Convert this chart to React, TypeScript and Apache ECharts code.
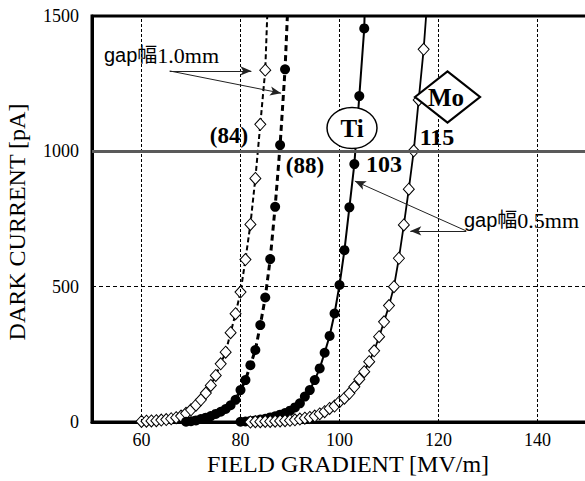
import React, { useEffect, useRef } from "react";
import * as echarts from "echarts";

// gap 1.0 mm, sample (84): open diamonds
const gap10aX = [60, 61, 62, 63, 64, 65, 66, 67, 68, 69, 70, 71, 72, 73, 74, 75, 76, 77, 78, 79, 80, 81, 82, 83, 84, 85, 85.8];
const gap10aY = [2, 3, 4, 5, 7, 9, 12, 16, 22, 32, 45, 62, 82, 107, 135, 172, 215, 258, 330, 400, 480, 600, 730, 900, 1100, 1300, 1700];
// gap 1.0 mm, sample (88): filled circles
const gap10bX = [69, 70, 71, 72, 73, 74, 75, 76, 77, 78, 79, 80, 81, 82, 83, 84, 85, 86, 87, 88, 89, 89.9];
const gap10bY = [1, 3, 6, 11, 16, 22, 30, 38, 48, 62, 82, 118, 155, 210, 266, 358, 460, 602, 795, 1023, 1303, 1680];
// gap 0.5 mm, Ti: filled circles
const tiX = [80, 81, 82, 83, 84, 85, 86, 87, 88, 89, 90, 91, 92, 93, 94, 95, 96, 97, 98, 99, 100, 101, 102, 103, 104, 105, 105.4];
const tiY = [1, 2, 4, 6, 9, 12, 17, 21, 27, 33, 42, 54, 69, 94, 118, 155, 198, 256, 318, 401, 506, 635, 793, 953, 1204, 1454, 1750];
// gap 0.5 mm, Mo: open diamonds
const moX = [82, 83, 84, 85, 86, 87, 88, 89, 90, 91, 92, 93, 94, 95, 96, 97, 98, 99, 100, 101, 102, 103, 104, 105, 106, 107, 108, 109, 110, 111, 112, 113, 114, 115, 116, 117, 117.9];
const moY = [0, 1, 1, 2, 2, 3, 4, 5, 6, 8, 11, 14, 17, 22, 30, 38, 50, 59, 75, 88, 106, 130, 158, 186, 223, 263, 315, 370, 430, 500, 605, 728, 860, 1002, 1190, 1377, 1600];

const xGridLines = [60, 80, 100, 120, 140];
const xTickLabels = [60, 80, 100, 120, 140];
const thresholdLine = 1000;

// annotation arrows in data coordinates: [startX, startY, endX, endY]
const arrows1mm = [
  [65.7, 1297, 82.2, 1297],
  [65.7, 1297, 88.2, 1215],
];
const arrows05mm = [
  [125.6, 706, 103.1, 890],
  [125.6, 706, 114.3, 706],
];

const SERIF = "'Liberation Serif', 'Times New Roman', serif";
const SANS = "'Liberation Sans', Arial, 'Noto Sans CJK JP', sans-serif";

const zip = (xs: number[], ys: number[]) => xs.map((x, i) => [x, ys[i]]);

export default function App() {
  const ref = useRef<HTMLDivElement>(null);
  useEffect(() => {
    const chart = echarts.init(ref.current!, null, { renderer: "svg" });
    const arrowData = [...arrows1mm, ...arrows05mm].map((a) => [
      { coord: [a[0], a[1]] },
      { coord: [a[2], a[3]] },
    ]);
    const boldLabel = (text: string, x: number, y: number, size: number) => ({
      type: "text",
      x,
      y,
      z: 20,
      style: { text, fontFamily: SERIF, fontWeight: "bold", fontSize: size, fill: "#000", align: "center", verticalAlign: "middle" },
    });
    const option: any = {
      animation: false,
      backgroundColor: "#fff",
      grid: {
        left: 92,
        right: 1,
        top: 16,
        bottom: 59,
        show: true,
        borderColor: "#000",
        borderWidth: 3,
        backgroundColor: "transparent",
      },
      xAxis: {
        type: "value",
        min: 50,
        max: 150,
        interval: 10,
        axisLine: { show: true, lineStyle: { color: "#000", width: 3 } },
        axisTick: { show: false },
        splitLine: { show: false },
        axisLabel: {
          color: "#000",
          fontFamily: SERIF,
          fontSize: 18,
          margin: 9,
          formatter: (v: number) => (xTickLabels.indexOf(v) >= 0 ? String(v) : ""),
        },
      },
      yAxis: {
        type: "value",
        min: 0,
        max: 1500,
        interval: 500,
        axisLine: { show: true, lineStyle: { color: "#000", width: 3 } },
        axisTick: { show: false },
        splitLine: { show: true, lineStyle: { color: "#000", width: 1, type: [4, 3] } },
        axisLabel: { color: "#000", fontFamily: SERIF, fontSize: 18, margin: 13, formatter: (v: number) => String(v) },
      },
      series: [
        {
          type: "line",
          data: [],
          z: 1,
          markLine: {
            silent: true,
            symbol: "none",
            label: { show: false },
            lineStyle: { color: "#000", width: 1, type: [3, 2] },
            data: [
              ...xGridLines.map((v) => ({ xAxis: v })),
              { yAxis: thresholdLine, lineStyle: { color: "#5a5a5a", width: 3, type: "solid" } },
            ],
          },
        },
        {
          type: "line",
          data: zip(gap10aX, gap10aY),
          z: 3,
          symbol: "diamond",
          symbolSize: [11, 12],
          showAllSymbol: true,
          lineStyle: { color: "#000", width: 2, type: [5, 3] },
          itemStyle: { color: "#fff", borderColor: "#000", borderWidth: 1 },
        },
        {
          type: "line",
          data: zip(gap10bX, gap10bY),
          z: 3,
          symbol: "circle",
          symbolSize: 10,
          showAllSymbol: true,
          lineStyle: { color: "#000", width: 3, type: [6, 4] },
          itemStyle: { color: "#000" },
        },
        {
          type: "line",
          data: zip(tiX, tiY),
          z: 3,
          symbol: "circle",
          symbolSize: 10,
          showAllSymbol: true,
          lineStyle: { color: "#000", width: 2 },
          itemStyle: { color: "#000" },
        },
        {
          type: "line",
          data: zip(moX, moY),
          z: 3,
          symbol: "diamond",
          symbolSize: [11, 12],
          showAllSymbol: true,
          lineStyle: { color: "#000", width: 1.8 },
          itemStyle: { color: "#fff", borderColor: "#000", borderWidth: 1 },
        },
        {
          type: "line",
          data: [],
          z: 6,
          markLine: {
            silent: true,
            symbol: ["none", "arrow"],
            symbolSize: [7, 11],
            label: { show: false },
            lineStyle: { color: "#222", width: 1, type: "solid" },
            data: arrowData,
          },
        },
      ],
      graphic: [
        {
          type: "text",
          x: 17,
          y: 222,
          rotation: Math.PI / 2,
          style: {
            text: "DARK CURRENT [pA]",
            fontFamily: SERIF,
            fontSize: 24,
            fill: "#000",
            align: "center",
            verticalAlign: "middle",
          },
        },
        {
          type: "text",
          x: 348,
          y: 464,
          style: {
            text: "FIELD GRADIENT [MV/m]",
            fontFamily: SERIF,
            fontSize: 24,
            fill: "#000",
            align: "center",
            verticalAlign: "middle",
          },
        },
        {
          type: "text",
          x: 104,
          y: 55,
          z: 20,
          style: {
            text: "{a|gap幅}{b|1.0mm}",
            align: "left",
            verticalAlign: "middle",
            rich: {
              a: { fontFamily: SANS, fontSize: 20, fill: "#000" },
              b: { fontFamily: SERIF, fontSize: 22, fill: "#000" },
            },
          },
        },
        {
          type: "text",
          x: 464,
          y: 220,
          z: 20,
          style: {
            text: "{a|gap幅}{b|0.5mm}",
            align: "left",
            verticalAlign: "middle",
            rich: {
              a: { fontFamily: SANS, fontSize: 20, fill: "#000" },
              b: { fontFamily: SERIF, fontSize: 22, fill: "#000" },
            },
          },
        },
        boldLabel("(84)", 229, 135, 23),
        boldLabel("(88)", 305, 165, 23),
        boldLabel("115", 437, 137, 24),
        boldLabel("103", 384, 164, 24),
        {
          type: "ellipse",
          z: 19,
          shape: { cx: 352, cy: 128, rx: 25, ry: 20.5 },
          style: { fill: "#fff", stroke: "#000", lineWidth: 1.5 },
        },
        boldLabel("Ti", 352, 128, 25),
        {
          type: "polygon",
          z: 19,
          shape: { points: [[415, 97], [447.5, 71.5], [480, 97], [447.5, 122.5]] },
          style: { fill: "#fff", stroke: "#000", lineWidth: 2.2 },
        },
        boldLabel("Mo", 446, 97, 25),
      ],
    };
    chart.setOption(option);
    return () => chart.dispose();
  }, []);
  return (
    <div
      ref={ref}
      style={{ position: "fixed", left: 0, top: 0, width: 590, height: 481 }}
    />
  );
}
